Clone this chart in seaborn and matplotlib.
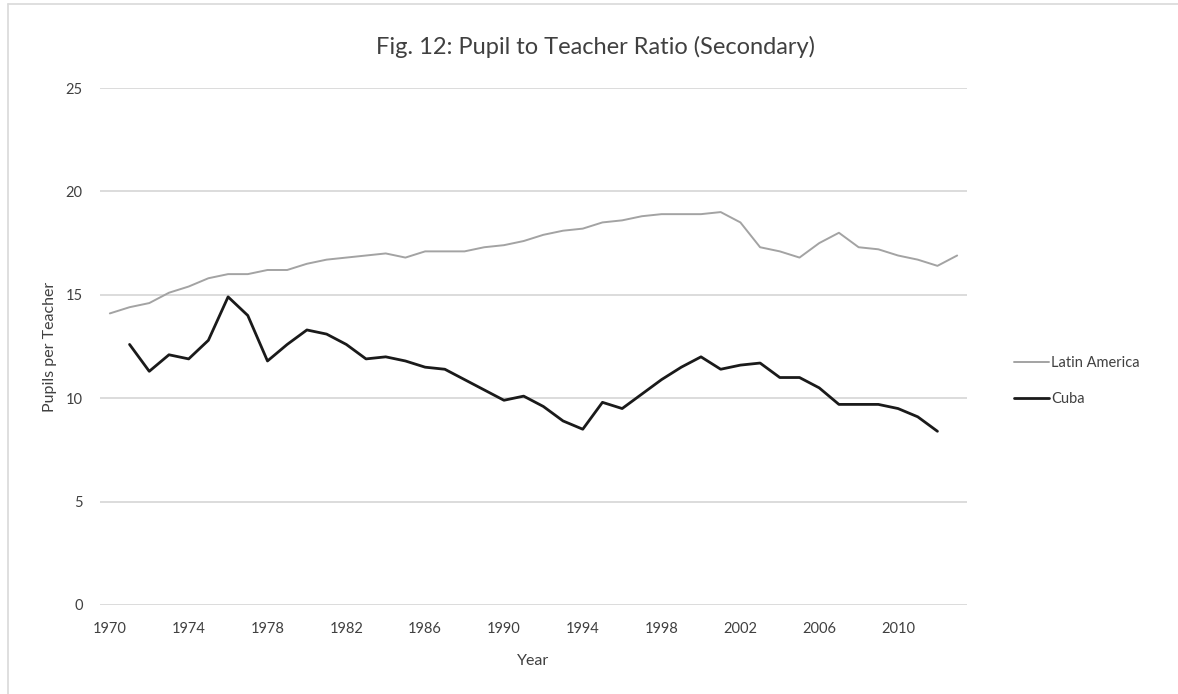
import matplotlib
matplotlib.use("Agg")
from matplotlib import pyplot as plt
from matplotlib.lines import Line2D
import numpy as np
import pandas as pd
import seaborn as sns

# Values
years = list(range(1970, 2014))
latin_america = [14.1, 14.4, 14.6, 15.1, 15.4, 15.8, 16.0, 16.0, 16.2, 16.2,
                 16.5, 16.7, 16.8, 16.9, 17.0, 16.8, 17.1, 17.1, 17.1, 17.3,
                 17.4, 17.6, 17.9, 18.1, 18.2, 18.5, 18.6, 18.8, 18.9, 18.9,
                 18.9, 19.0, 18.5, 17.3, 17.1, 16.8, 17.5, 18.0, 17.3, 17.2,
                 16.9, 16.7, 16.4, 16.9]
cuba = [np.nan, 12.6, 11.3, 12.1, 11.9, 12.8, 14.9, 14.0, 11.8, 12.6,
        13.3, 13.1, 12.6, 11.9, 12.0, 11.8, 11.5, 11.4, 10.9, 10.4,
        9.9, 10.1, 9.6, 8.9, 8.5, 9.8, 9.5, 10.2, 10.9, 11.5,
        12.0, 11.4, 11.6, 11.7, 11.0, 11.0, 10.5, 9.7, 9.7, 9.7,
        9.5, 9.1, 8.4, np.nan]
series_names = ["Latin America", "Cuba"]
year_ticks = list(range(1970, 2014, 4))
y_ticks = [0, 5, 10, 15, 20, 25]

df = pd.DataFrame({"Year": years * 2,
                   "Ratio": latin_america + cuba,
                   "Series": ["Latin America"] * len(years) + ["Cuba"] * len(years)})
df = df.dropna()

sns.set_style("white")
plt.rcParams["font.family"] = ["Lato", "DejaVu Sans"]

fig = plt.figure(figsize=(11.78, 6.94), dpi=100)
ax = fig.add_axes([100 / 1178, 1 - 605 / 694, 867 / 1178, 517 / 694])

palette = {"Latin America": "#a3a3a3", "Cuba": "#1a1a1a"}
sns.lineplot(data=df, x="Year", y="Ratio", hue="Series", palette=palette,
             hue_order=series_names, ax=ax, legend=False)
for line, lw in zip(ax.lines, [1.4, 2.0]):
    line.set_linewidth(lw)

ax.set_xlim(1969.5, 2013.5)
ax.set_ylim(0, 25)
ax.set_yticks(y_ticks)
ax.set_xticks(year_ticks)
ax.yaxis.grid(True, color="#d9d9d9", linewidth=1.3)
ax.set_axisbelow(True)
for s in ax.spines.values():
    s.set_visible(False)
ax.tick_params(axis="both", length=0, labelsize=10.5, labelcolor="#404040")
ax.tick_params(axis="y", pad=12.5)
ax.tick_params(axis="x", pad=12.5)
ax.set_xlabel("Year", fontsize=11.5, color="#404040", labelpad=13)
ax.set_ylabel("Pupils per Teacher", fontsize=11.5, color="#404040", labelpad=6)

fig.text(596 / 1178, 1 - 47 / 694, "Fig. 12: Pupil to Teacher Ratio (Secondary)",
         ha="center", va="center", fontsize=17, color="#404040")

handles = [Line2D([], [], color=palette[n], linewidth=lw) for n, lw in zip(series_names, [1.4, 2.0])]
fig.legend(handles, series_names, loc="center left",
           bbox_to_anchor=(1001 / 1178, 1 - 381 / 694), frameon=False,
           fontsize=10.5, labelcolor="#404040", handlelength=2.4, handletextpad=0.15,
           labelspacing=1.5)

# thin frame around the chart area like the original screenshot
fig.add_artist(Line2D([8 / 1178, 8 / 1178], [0, 1 - 4 / 694], color="#d9d9d9", linewidth=1.2))
fig.add_artist(Line2D([8 / 1178, 1], [1 - 4 / 694, 1 - 4 / 694], color="#d9d9d9", linewidth=1.2))

fig.savefig("out.png", dpi=100)
